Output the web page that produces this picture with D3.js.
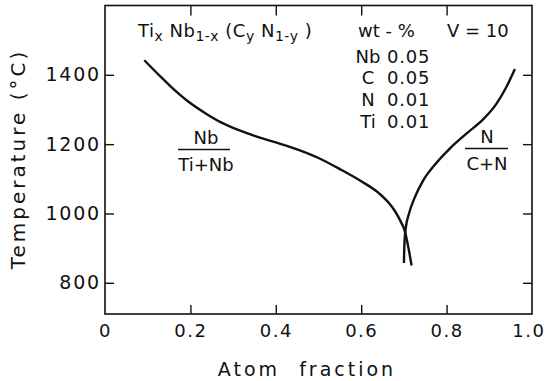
<!DOCTYPE html>
<html><head><meta charset="utf-8">
<script src="https://cdn.jsdelivr.net/npm/d3@7"></script>
<style>
body{margin:0;background:#fff;}
text{font-family:"DejaVu Sans",sans-serif;fill:#111;}
</style></head>
<body><svg id="c" width="545" height="381"></svg>
<script>
// ---- data ----
const nbFracX = [0.092,0.125,0.156,0.195,0.234,0.273,0.312,0.350,0.400,0.450,0.500,0.550,0.600,0.640,0.665,0.680,0.692,0.702,0.710,0.718];
const nbFracT = [1442,1401,1364,1323,1290,1262,1241,1224,1205,1185,1160,1128,1093,1060,1030,1005,978,950,905,850];
const nFracX = [0.700,0.701,0.704,0.712,0.725,0.745,0.770,0.808,0.847,0.886,0.917,0.940,0.960];
const nFracT = [857,904,955,1000,1045,1095,1137,1188,1231,1272,1317,1365,1417];
const xTicks = [0,0.2,0.4,0.6,0.8,1.0];
const xTickLabels = ["0","0.2","0.4","0.6","0.8","1.0"];
const yTicks = [800,1000,1200,1400];
const yTickLabels = ["800","1000","1200","1400"];
const compElems = ["Nb","C","N","Ti"];
const compVals = ["0.05","0.05","0.01","0.01"];

const svg = d3.select("#c");
const x = d3.scaleLinear().domain([0,1]).range([105,532]);
const y = d3.scaleLinear().domain([710,1600]).range([314,5.5]);
const FS = 18;

// frame
svg.append("rect").attr("x",x(0)).attr("y",y(1600)).attr("width",x(1)-x(0)).attr("height",y(710)-y(1600))
  .attr("fill","none").attr("stroke","#111").attr("stroke-width",1.6);

function styleAxis(g){
  g.select(".domain").remove();
  g.selectAll(".tick line").attr("stroke","#111").attr("stroke-width",1.4);
  g.selectAll(".tick text").attr("font-size",FS).attr("fill","#111").attr("font-family","DejaVu Sans");
}
// bottom
svg.append("g").attr("transform",`translate(0,${y(710)})`)
  .call(d3.axisBottom(x).tickValues(xTicks).tickSize(-9).tickPadding(10).tickFormat((d,i)=>xTickLabels[i]))
  .call(styleAxis)
  .call(g=>g.selectAll(".tick text").attr("letter-spacing",1.5))
  .call(g=>g.selectAll(".tick").filter(d=>d===0||d===1).select("line").remove())
  .call(g=>g.selectAll(".tick").filter(d=>d===1).select("text").attr("text-anchor","end").attr("dx",13));
// top (ticks only)
svg.append("g").attr("transform",`translate(0,${y(1600)})`)
  .call(d3.axisTop(x).tickValues(xTicks.slice(1,-1)).tickSize(-10).tickFormat(""))
  .call(styleAxis);
// left
svg.append("g").attr("transform",`translate(${x(0)},0)`)
  .call(d3.axisLeft(y).tickValues(yTicks).tickSize(-9).tickPadding(4).tickFormat((d,i)=>yTickLabels[i]))
  .call(styleAxis)
  .call(g=>g.selectAll(".tick text").attr("font-size",19).attr("letter-spacing",1.8));
// right
svg.append("g").attr("transform",`translate(${x(1)},0)`)
  .call(d3.axisRight(y).tickValues(yTicks).tickSize(-9).tickFormat(""))
  .call(styleAxis);

// curves
const line = d3.line().x(d=>x(d[0])).y(d=>y(d[1])).curve(d3.curveMonotoneX);
svg.append("path").datum(nbFracX.map((v,i)=>[v,nbFracT[i]]))
  .attr("d",line).attr("fill","none").attr("stroke","#111").attr("stroke-width",2.4);
svg.append("path").datum(nFracX.map((v,i)=>[v,nFracT[i]]))
  .attr("d",line).attr("fill","none").attr("stroke","#111").attr("stroke-width",2.4);

// axis titles
svg.append("text").attr("x",307).attr("y",376).attr("text-anchor","middle")
  .attr("font-size",19).attr("letter-spacing",3).attr("word-spacing",10).text("Atom fraction");
svg.append("text").attr("transform","translate(25,159) rotate(-90)").attr("text-anchor","middle")
  .attr("font-size",20).attr("letter-spacing",3).text("Temperature (°C)");

// formula
const f = svg.append("text").attr("x",138).attr("y",37).attr("font-size",FS).attr("letter-spacing",0.5);
f.append("tspan").text("Ti");
f.append("tspan").attr("font-size",14).attr("dy",4).text("x");
f.append("tspan").attr("dy",-4).text(" Nb");
f.append("tspan").attr("font-size",14).attr("dy",4).text("1-x");
f.append("tspan").attr("dy",-4).text(" (C");
f.append("tspan").attr("font-size",14).attr("dy",4).text("y");
f.append("tspan").attr("dy",-4).text(" N");
f.append("tspan").attr("font-size",14).attr("dy",4).text("1-y");
f.append("tspan").attr("dy",-4).text(" )");

// composition table
svg.append("text").attr("x",358).attr("y",37).attr("font-size",FS).text("wt - %");
svg.append("text").attr("x",447).attr("y",37).attr("font-size",FS).text("V = 10");
const rowY = [63,84,106,128];
compElems.forEach((e,i)=>{
  svg.append("text").attr("x",368).attr("y",rowY[i]).attr("text-anchor","middle").attr("font-size",FS).text(e);
  svg.append("text").attr("x",387).attr("y",rowY[i]).attr("font-size",FS).attr("letter-spacing",0.8).text(compVals[i]);
});

// fraction labels
function frac(cx, yLine, x0, x1, num, den){
  svg.append("text").attr("x",cx).attr("y",yLine-6).attr("text-anchor","middle").attr("font-size",FS).text(num);
  svg.append("line").attr("x1",x0).attr("x2",x1).attr("y1",yLine).attr("y2",yLine).attr("stroke","#111").attr("stroke-width",1.3);
  svg.append("text").attr("x",cx).attr("y",yLine+21).attr("text-anchor","middle").attr("font-size",FS).text(den);
}
frac(206,149.5,178,230,"Nb","Ti+Nb");
frac(487,148.5,465,508,"N","C+N");
</script></body></html>
